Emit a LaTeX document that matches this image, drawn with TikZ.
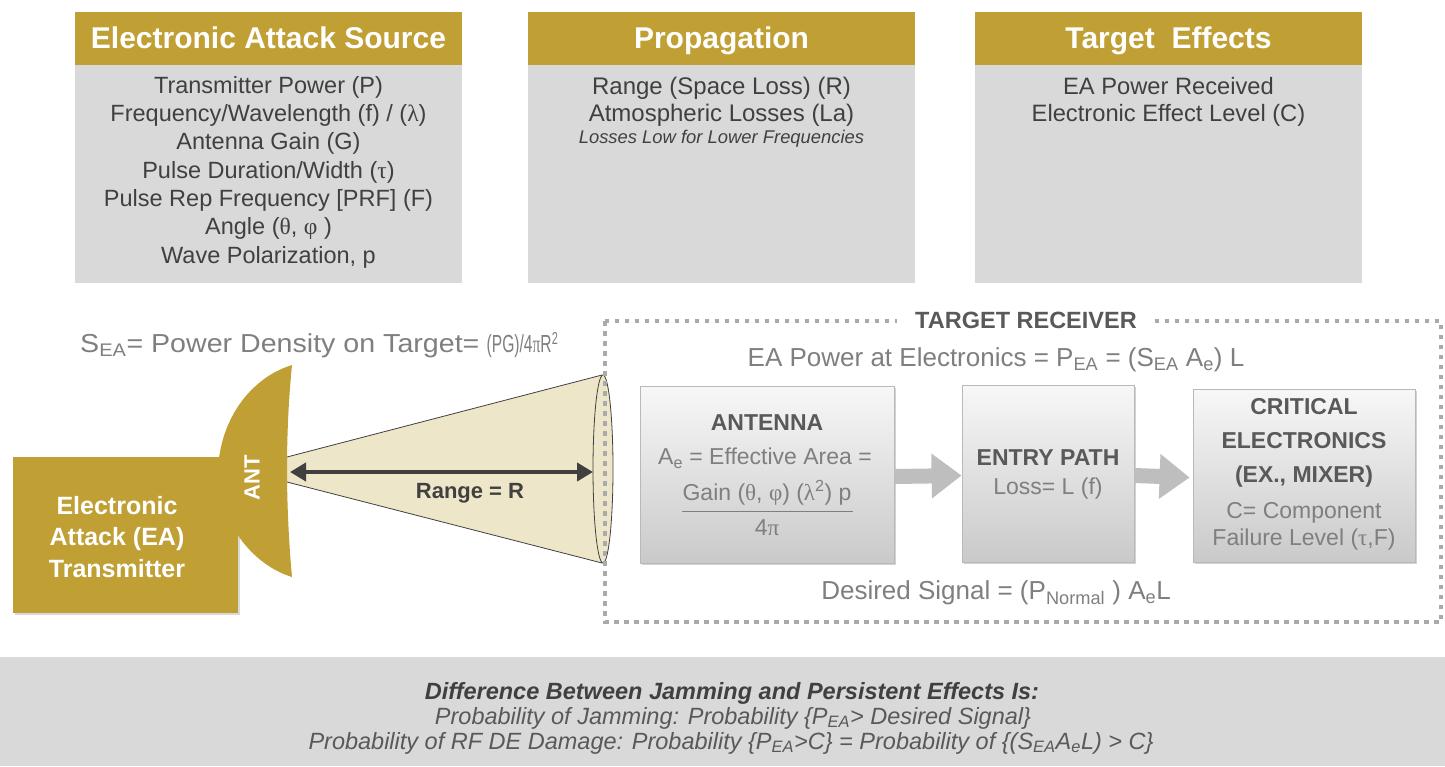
\documentclass[tikz,border=0pt]{standalone}
\usepackage{fontspec}
\usepackage{graphicx}
\setmainfont{Liberation Sans}
\newfontfamily\grk{Liberation Serif}
\usetikzlibrary{arrows.meta,shadows}
\definecolor{gold}{RGB}{192,160,52}
\definecolor{panel}{RGB}{217,217,217}
\definecolor{txtdark}{RGB}{64,64,64}
\definecolor{txtmid}{RGB}{89,89,89}
\definecolor{txtlight}{RGB}{127,127,127}
\definecolor{beige}{RGB}{238,230,200}
\definecolor{arrowgray}{RGB}{190,190,190}
\definecolor{dotgray}{RGB}{170,170,170}
\newcommand\fs[2]{\fontsize{#1}{#2}\selectfont}
\newcommand\sbs[1]{\textsubscript{#1}}
\newcommand\gk[1]{{\grk #1}}
\begin{document}
\begin{tikzpicture}[x=1pt,y=-1pt,
  hdr/.style={fill=gold, text=white, font=\fs{30}{34}\bfseries, minimum width=387pt, minimum height=53pt, inner sep=0pt, text height=23pt, text depth=4pt},
  bodybox/.style={fill=panel, minimum width=387pt, minimum height=218pt, inner sep=0pt},
  bodytxt/.style={text=txtdark, font=\fs{23.5}{28.3}\selectfont, align=center, inner sep=0pt, anchor=north},
  midtxt/.style={text=txtlight, font=\fs{26}{30}\selectfont, inner sep=0pt},
  rbox/.style={draw=gray!55, line width=0.8pt, top color=gray!6, bottom color=gray!42, drop shadow={shadow xshift=2pt, shadow yshift=-2pt, opacity=0.35}, inner sep=0pt},
  rbold/.style={text=txtmid, font=\fs{23}{34}\bfseries, align=center, inner sep=0pt},
  rtxt/.style={text=txtlight, font=\fs{23}{27}\selectfont, align=center, inner sep=0pt},
  blockarrow/.style={arrowgray, line width=15pt, -{Triangle[length=30pt,width=43pt]}},
  goldshape/.style={fill=gold},
  whitebold/.style={text=white, font=\fs{25}{31.5}\bfseries, align=center, inner sep=0pt},
  btxt/.style={text=txtmid, font=\fs{23.5}{25}\itshape, inner sep=0pt}
]
\useasboundingbox (0,0) rectangle (1445,766);
\fill[white] (0,0) rectangle (1445,766);

% ---------- top boxes ----------
\node[bodybox] (b1) at (268.5,174) {};
\node[hdr] (h1) at (268.5,38.5) {Electronic Attack Source};
\node[bodybox] (b2) at (721.5,174) {};
\node[hdr] (h2) at (721.5,38.5) {Propagation};
\node[bodybox] (b3) at (1168.5,174) {};
\node[hdr] (h3) at (1168.5,38.5) {Target\ \ Effects};

\node[bodytxt] (t1) at (268.5,76) {Transmitter Power (P)\\Frequency/Wavelength (f) / (\gk{λ})\\Antenna Gain (G)\\Pulse Duration/Width (\gk{τ})\\Pulse Rep Frequency [PRF] (F)\\Angle (\gk{θ}, \gk{φ} )\\Wave Polarization,\ p};
\node[bodytxt, font=\fs{24}{27}\selectfont] (t2) at (721.5,77) {Range (Space Loss) (R)\\Atmospheric Losses (La)};
\node[text=txtdark, font=\fs{18.4}{20}\itshape, inner sep=0pt] (t2b) at (721.5,139) {Losses Low for Lower Frequencies};
\node[bodytxt, font=\fs{23.7}{27}\selectfont] (t3) at (1168.5,77) {EA Power Received\\Electronic Effect Level (C)};

% ---------- transmitter side ----------
\node[midtxt, anchor=west] (sea) at (80,345) {\scalebox{1.1}[1]{S\sbs{EA}= Power Density on Target=} \scalebox{0.6}[0.95]{(PG)/4\gk{π}R\textsuperscript{2}}};

\coordinate (apexT) at (287,457);
\coordinate (apexB) at (287,482);
\coordinate (rimT) at (602,375);
\coordinate (rimB) at (602,563);
\fill[beige] (apexT) -- (rimT) -- (rimB) -- (apexB) -- cycle;
\draw[txtdark, line width=0.8pt] (apexT) -- (rimT) (apexB) -- (rimB);
\draw[txtdark, line width=0.8pt, fill=beige] (603,469) ellipse [x radius=10, y radius=94];

\node[goldshape, minimum width=225pt, minimum height=156pt, inner sep=0pt, drop shadow={shadow xshift=2pt, shadow yshift=-2pt, opacity=0.3}] (tx) at (125.5,535) {};
\fill[gold] (292,365) .. controls (250,378) and (220,420) .. (218,470)
  .. controls (217,520) and (252,565) .. (292,577)
  .. controls (289,545) and (287,505) .. (287,470)
  .. controls (287,430) and (289,395) .. (292,365) -- cycle;
\node[whitebold] (txlbl) at (117,537) {Electronic\\Attack (EA)\\Transmitter};
\node[whitebold, font=\fs{22}{26}\bfseries, rotate=90] (ant) at (252,478) {ANT};

\coordinate (rL) at (290,472);
\coordinate (rR) at (593,472);
\draw[txtdark, line width=4.5pt, {Triangle[length=16pt,width=18pt]}-{Triangle[length=16pt,width=18pt]}] (rL) -- (rR);
\node[text=txtdark, font=\fs{22}{26}\bfseries, inner sep=0pt] (range) at (470,493) {Range = R};

% ---------- target receiver ----------
\draw[dotgray, line width=3.5pt, dash pattern=on 4.5pt off 5.5pt] (605,321) rectangle (1441,622);
\node[fill=white, text=txtmid, font=\fs{23.5}{27}\bfseries, inner xsep=18pt, inner ysep=2pt] (recv) at (1026,320) {TARGET RECEIVER};
\node[midtxt] (eapow) at (996,360) {EA Power at Electronics = P\sbs{EA} = (S\sbs{EA} A\sbs{e}) L};

\node[rbox, minimum width=254pt, minimum height=177pt] (antbox) at (767,474.5) {};
\node[rbox, minimum width=172pt, minimum height=177pt] (entrybox) at (1048,473.5) {};
\node[rbox, minimum width=222pt, minimum height=173pt] (critbox) at (1304,475.5) {};

\node[rbold] (antT) at (767,423) {ANTENNA};
\node[rtxt] (antA) at (765,458) {A\sbs{e} = Effective Area =};
\node[rtxt] (antG) at (767,493) {Gain (\gk{θ}, \gk{φ}) (\gk{λ}\textsuperscript{2}) p};
\coordinate (fracL) at (682,511);
\coordinate (fracR) at (853,511);
\draw[txtlight, line width=1pt] (fracL) -- (fracR);
\node[rtxt] (antP) at (767,528) {4\gk{π}};

\node[rbold] (entT) at (1048,458) {ENTRY PATH};
\node[rtxt] (entL) at (1048,489) {Loss= L (f)};

\node[rbold, anchor=north] (critT) at (1304,398) {CRITICAL\\ELECTRONICS\\(EX., MIXER)};
\node[rtxt, anchor=north] (critC) at (1304,502) {C= Component\\Failure Level (\gk{τ},F)};

\draw[blockarrow] ([yshift=-2pt]antbox.east) -- ([yshift=-2pt]entrybox.west);
\draw[blockarrow] ([yshift=-2pt]entrybox.east) -- ([xshift=-3pt,yshift=-2pt]critbox.west);

\node[midtxt] (desired) at (996,593) {Desired Signal = (P\sbs{Normal} ) A\sbs{e}L};

% ---------- bottom panel ----------
\fill[panel] (0,657) rectangle (1445,766);
\node[btxt, text=txtdark, font=\fs{23.5}{25}\bfseries\itshape] (d1) at (732,693) {Difference Between Jamming and Persistent Effects Is:};
\node[btxt] (d2) at (733,718) {Probability of Jamming: Probability \{P\sbs{EA}> Desired Signal\}};
\node[btxt] (d3) at (731,743) {Probability of RF DE Damage: Probability \{P\sbs{EA}>C\} = Probability of \{(S\sbs{EA}A\sbs{e}L) > C\}};
\end{tikzpicture}
\end{document}
